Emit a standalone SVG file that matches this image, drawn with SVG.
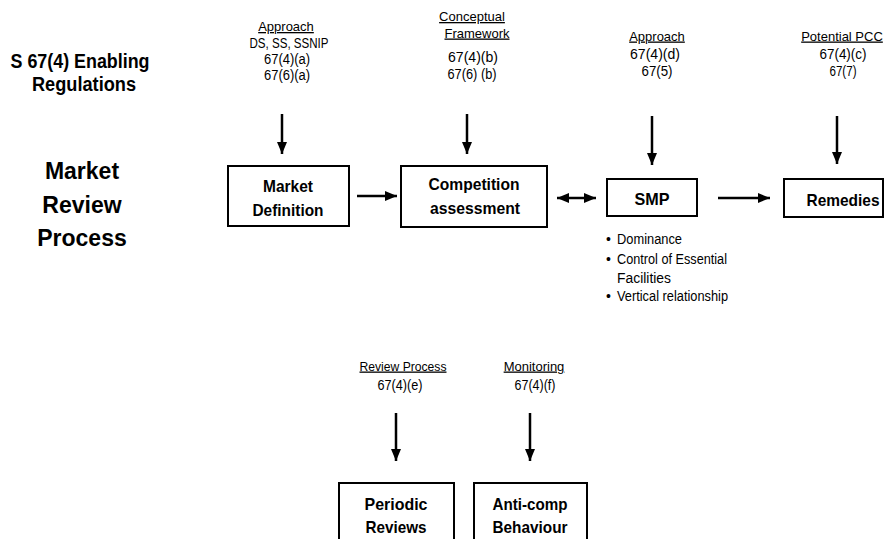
<svg xmlns="http://www.w3.org/2000/svg" width="889" height="539" viewBox="0 0 889 539">
<style>
text{font-family:"Liberation Sans",Arial,sans-serif;fill:#000;text-anchor:middle}
.box{fill:#fff;stroke:#000;stroke-width:2}
.bt{font-size:17px;font-weight:bold}
.title{font-size:20px;font-weight:bold}
.big{font-size:23px;font-weight:bold}
.lab{font-size:13px;text-decoration:underline}
.num{font-size:14px}
.bul{font-size:14px;text-anchor:start}
.conn line{stroke:#000;stroke-width:2.5}
</style>
<defs>
<marker id="ah" markerWidth="12" markerHeight="10" refX="12" refY="5" orient="auto-start-reverse" markerUnits="userSpaceOnUse">
<path d="M0,0 L12,5 L0,10 z" fill="#000"/>
</marker>
</defs>
<rect width="889" height="539" fill="#fff"/>

<g id="enabling-regulations">
<text class="title" x="80" y="68" textLength="139" lengthAdjust="spacingAndGlyphs">S 67(4) Enabling</text>
<text class="title" x="84" y="91" textLength="104" lengthAdjust="spacingAndGlyphs">Regulations</text>
</g>
<g id="market-review-process">
<text class="big" x="82" y="179">Market</text>
<text class="big" x="82" y="213">Review</text>
<text class="big" x="82" y="246">Process</text>
</g>

<g id="label-approach-a">
<text class="lab" x="286" y="31">Approach</text>
<text class="num" x="289" y="48" textLength="79" lengthAdjust="spacingAndGlyphs">DS, SS, SSNIP</text>
<text class="num" x="287" y="63.5" textLength="46" lengthAdjust="spacingAndGlyphs">67(4)(a)</text>
<text class="num" x="287" y="79.5" textLength="46" lengthAdjust="spacingAndGlyphs">67(6)(a)</text>
</g>
<g id="label-conceptual">
<text class="lab" x="472" y="21">Conceptual</text>
<text class="lab" x="477" y="37.5">Framework</text>
<text class="num" x="473" y="61.5" textLength="50" lengthAdjust="spacingAndGlyphs">67(4)(b)</text>
<text class="num" x="472" y="78.5" textLength="49" lengthAdjust="spacingAndGlyphs">67(6) (b)</text>
</g>
<g id="label-approach-d">
<text class="lab" x="657" y="40.5">Approach</text>
<text class="num" x="655" y="58.5" textLength="50" lengthAdjust="spacingAndGlyphs">67(4)(d)</text>
<text class="num" x="657" y="75.5" textLength="31" lengthAdjust="spacingAndGlyphs">67(5)</text>
</g>
<g id="label-potential-pcc">
<text class="lab" x="842" y="40.5">Potential PCC</text>
<text class="num" x="843" y="58.5" textLength="47" lengthAdjust="spacingAndGlyphs">67(4)(c)</text>
<text class="num" x="843" y="75.5" textLength="27" lengthAdjust="spacingAndGlyphs">67(7)</text>
</g>
<g id="label-review-process">
<text class="lab" x="403" y="370.5" textLength="87" lengthAdjust="spacingAndGlyphs">Review Process</text>
<text class="num" x="400" y="390" textLength="45" lengthAdjust="spacingAndGlyphs">67(4)(e)</text>
</g>
<g id="label-monitoring">
<text class="lab" x="534" y="370.5">Monitoring</text>
<text class="num" x="535" y="390" textLength="41" lengthAdjust="spacingAndGlyphs">67(4)(f)</text>
</g>

<g id="market-definition">
<rect class="box" x="228" y="166" width="121" height="60"/>
<text class="bt" x="288" y="192" textLength="50" lengthAdjust="spacingAndGlyphs">Market</text>
<text class="bt" x="288" y="216" textLength="71" lengthAdjust="spacingAndGlyphs">Definition</text>
</g>
<g id="competition-assessment">
<rect class="box" x="401" y="166" width="146" height="61"/>
<text class="bt" x="474" y="190" textLength="91" lengthAdjust="spacingAndGlyphs">Competition</text>
<text class="bt" x="475" y="214" textLength="90" lengthAdjust="spacingAndGlyphs">assessment</text>
</g>
<g id="smp">
<rect class="box" x="607" y="179" width="90" height="37"/>
<text class="bt" x="652" y="205" textLength="35" lengthAdjust="spacingAndGlyphs">SMP</text>
<text class="bul" x="606" y="244"><tspan>•</tspan><tspan x="617" textLength="65" lengthAdjust="spacingAndGlyphs">Dominance</tspan></text>
<text class="bul" x="606" y="264"><tspan>•</tspan><tspan x="617" textLength="110" lengthAdjust="spacingAndGlyphs">Control of Essential</tspan></text>
<text class="bul" x="617" y="282.5" textLength="54" lengthAdjust="spacingAndGlyphs">Facilities</text>
<text class="bul" x="606" y="301"><tspan>•</tspan><tspan x="617" textLength="111" lengthAdjust="spacingAndGlyphs">Vertical relationship</tspan></text>
</g>
<g id="remedies">
<rect class="box" x="784" y="179" width="99" height="38"/>
<text class="bt" x="843" y="206" textLength="73" lengthAdjust="spacingAndGlyphs">Remedies</text>
</g>
<g id="periodic-reviews">
<rect class="box" x="339" y="483" width="115" height="60"/>
<text class="bt" x="396" y="510" textLength="63" lengthAdjust="spacingAndGlyphs">Periodic</text>
<text class="bt" x="396" y="533" textLength="61" lengthAdjust="spacingAndGlyphs">Reviews</text>
</g>
<g id="anti-comp-behaviour">
<rect class="box" x="474" y="483" width="113" height="60"/>
<text class="bt" x="530" y="510" textLength="75" lengthAdjust="spacingAndGlyphs">Anti-comp</text>
<text class="bt" x="530" y="533" textLength="75" lengthAdjust="spacingAndGlyphs">Behaviour</text>
</g>

<g id="connectors" class="conn">
<line x1="282" y1="114" x2="282" y2="154" marker-end="url(#ah)"/>
<line x1="467" y1="114" x2="467" y2="154" marker-end="url(#ah)"/>
<line x1="652" y1="116" x2="652" y2="165" marker-end="url(#ah)"/>
<line x1="837" y1="116" x2="837" y2="164" marker-end="url(#ah)"/>
<line x1="357" y1="196" x2="397" y2="196" marker-end="url(#ah)"/>
<line x1="557" y1="198" x2="596" y2="198" marker-start="url(#ah)" marker-end="url(#ah)"/>
<line x1="718" y1="198" x2="770" y2="198" marker-end="url(#ah)"/>
<line x1="396" y1="413" x2="396" y2="461" marker-end="url(#ah)"/>
<line x1="530" y1="413" x2="530" y2="461" marker-end="url(#ah)"/>
</g>
</svg>
